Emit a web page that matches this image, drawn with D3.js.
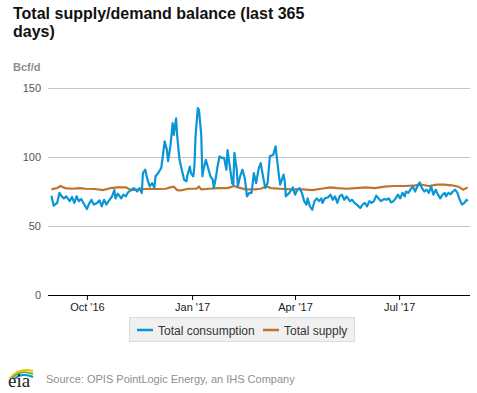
<!DOCTYPE html>
<html>
<head>
<meta charset="utf-8">
<script src="https://cdn.jsdelivr.net/npm/d3@7"></script>
<style>
  body { margin: 0; background: #fff; }
  svg { font-family: "Liberation Sans", Arial, sans-serif; }
  .grid line { stroke: #c4c4c4; }
  .grid .domain { display: none; }
  .ylab text { fill: #555; font-size: 11px; }
  .xaxis text { fill: #222; font-size: 11px; }
</style>
</head>
<body>
<script>
var startDay = new Date(2016, 7, 31);

var consDay = [0, 2, 5, 7, 9, 11, 13, 16, 18, 20, 22, 24, 26, 28, 31, 33, 35, 37, 40, 42, 44, 46, 48, 50, 53, 55, 56, 58, 61, 63, 65, 67, 70, 72, 75, 77, 79, 80, 82, 84, 86, 88, 90, 91, 93, 96, 97, 99, 101, 102, 104, 106, 107, 109, 110, 112, 114, 116, 118, 119, 121, 122, 124, 125, 126, 128, 129, 131, 132, 133, 135, 137, 139, 141, 142, 144, 145, 147, 149, 151, 153, 154, 156, 158, 159, 160, 162, 163, 165, 167, 169, 171, 173, 175, 177, 179, 181, 183, 185, 187, 189, 191, 194, 196, 197, 199, 200, 203, 204, 205, 208, 210, 211, 213, 215, 217, 219, 221, 223, 224, 226, 228, 230, 232, 234, 236, 237, 239, 242, 244, 246, 248, 250, 252, 254, 256, 258, 261, 263, 265, 267, 270, 272, 274, 276, 278, 280, 282, 284, 286, 288, 291, 293, 295, 297, 299, 301, 303, 305, 307, 309, 310, 312, 314, 316, 318, 320, 322, 324, 326, 328, 330, 332, 334, 336, 338, 340, 342, 344, 345, 347, 349, 351, 353, 355, 357, 359, 361, 363, 364];
var consBcf = [72, 64.7, 66.7, 74, 71.5, 70, 71.5, 68, 71, 66.7, 71.5, 68, 69.6, 66.7, 62.3, 66.2, 69, 65.5, 66.7, 68.6, 64.3, 69, 65.5, 68, 71.5, 76, 70, 73.4, 70, 72.7, 71.5, 74.4, 76.3, 77.5, 75, 77.5, 73.9, 88.4, 90.8, 83.6, 78.7, 81, 78, 86, 88, 92, 98, 111.4, 105, 97, 107.7, 124.6, 116, 128, 115, 98, 90.8, 83.6, 82.4, 87, 93, 88.4, 86, 93, 115, 135.5, 134, 116, 86, 91, 98, 92, 86, 83.6, 77.5, 86, 92, 100.5, 99.3, 99.3, 90.8, 105, 93, 81, 80, 103, 91, 78.7, 86, 90.8, 85, 71.5, 74, 74, 88.4, 81, 90.8, 95.6, 86, 77.5, 81, 100.5, 101.7, 107.7, 100.5, 86, 80, 87.2, 82.4, 71.5, 74, 76.3, 78, 72.7, 76.3, 77.5, 74, 68, 65.5, 70, 64.3, 61.8, 68, 70, 68, 70, 66.7, 70, 70.8, 72.7, 69, 71.5, 66.7, 71.5, 72.7, 69, 71.5, 68, 69, 66.7, 65.5, 63, 65.5, 66.7, 64.3, 68, 66.7, 68, 72, 70, 68, 69.6, 69, 70, 67.1, 68, 70, 72.7, 70, 74, 71.5, 75, 74, 76.3, 78.7, 75, 78.7, 81.6, 77.5, 75, 76.3, 74, 78.7, 72.7, 76.3, 72.7, 70, 72.7, 74, 71.5, 74, 73, 75, 76.3, 74, 69, 65.5, 66.7, 69, 68];

var supplyDay = [0, 5, 8, 12, 18, 25, 30, 38, 45, 52, 58, 65, 70, 78, 85, 92, 100, 104, 107, 110, 113, 120, 127, 129, 131, 138, 146, 154, 160, 163, 170, 178, 183, 188, 192, 200, 210, 220, 228, 236, 244, 250, 258, 266, 275, 283, 291, 300, 310, 318, 323, 330, 337, 343, 350, 356, 360, 364];
var supplyBcf = [76.5, 77.5, 79, 77.5, 77, 77.5, 77, 76.8, 76, 77.5, 78, 78, 76, 76.5, 77, 76.8, 77, 78, 78.5, 76, 75.8, 77, 77, 78.5, 76.5, 77, 77.5, 77.5, 79, 78, 76.5, 76.5, 77, 78.7, 77.5, 77, 76.5, 76.5, 76, 77, 78, 77.5, 77, 77.5, 78, 77.5, 78.5, 79, 79, 79.5, 80, 79, 80, 80, 79.5, 78.5, 76.3, 78];

var yTicks = [0, 50, 100, 150];
var xTickDates = [new Date(2016, 9, 1), new Date(2017, 0, 1), new Date(2017, 3, 1), new Date(2017, 6, 1)];
var seriesNames = ["Total consumption", "Total supply"];
var seriesColors = ["#0a96d6", "#bf732c"];

var width = 477, height = 393;
var svg = d3.select("body").append("svg")
    .attr("width", width)
    .attr("height", height);

var x = d3.scaleTime()
    .domain([new Date(2016, 7, 28), new Date(2017, 8, 1)])
    .range([48, 470]);
var y = d3.scaleLinear()
    .domain([0, 150])
    .range([295, 88]);

// title, two lines
var title = svg.append("text")
    .attr("x", 13)
    .attr("y", 19)
    .style("font-size", "16px")
    .style("font-weight", "bold")
    .attr("fill", "#111");
title.append("tspan").attr("x", 13).text("Total supply/demand balance (last 365");
title.append("tspan").attr("x", 13).attr("dy", 18).text("days)");

svg.append("text")
    .attr("x", 13)
    .attr("y", 71)
    .style("font-size", "11px")
    .style("font-weight", "bold")
    .attr("fill", "#8c8c8c")
    .text("Bcf/d");

// gridlines
svg.append("g")
    .attr("class", "grid")
    .attr("transform", "translate(48,0)")
    .call(d3.axisLeft(y).tickValues(yTicks).tickSize(-422).tickFormat(""));

// y labels without axis line
var ylab = svg.append("g")
    .attr("class", "ylab")
    .attr("transform", "translate(41,0)")
    .call(d3.axisLeft(y).tickValues(yTicks).tickSize(0).tickPadding(0));
ylab.select(".domain").remove();

// x axis
var fmt = d3.timeFormat("%b '%y");
var xaxis = svg.append("g")
    .attr("class", "xaxis")
    .attr("transform", "translate(0,295)")
    .call(d3.axisBottom(x).tickValues(xTickDates).tickSize(5).tickPadding(3).tickFormat(fmt));
xaxis.select(".domain").attr("stroke", "#000").attr("d", "M48,0.5H470");
xaxis.selectAll(".tick line").attr("stroke", "#000");

function toPoints(days, vals) {
    var pts = [];
    for (var i = 0; i < days.length; i++) {
        pts.push({ date: d3.timeDay.offset(startDay, days[i]), v: vals[i] });
    }
    return pts;
}

var line = d3.line()
    .x(function (d) { return x(d.date); })
    .y(function (d) { return y(d.v); });

svg.append("path")
    .datum(toPoints(supplyDay, supplyBcf))
    .attr("fill", "none")
    .attr("stroke", seriesColors[1])
    .attr("stroke-width", 2.2)
    .attr("d", line);

svg.append("path")
    .datum(toPoints(consDay, consBcf))
    .attr("fill", "none")
    .attr("stroke", seriesColors[0])
    .attr("stroke-width", 2.2)
    .attr("stroke-linejoin", "round")
    .attr("d", line);

// legend
var legend = svg.append("g");
legend.append("rect")
    .attr("x", 129.5).attr("y", 317.5)
    .attr("width", 225).attr("height", 24)
    .attr("fill", "#f0f0f0")
    .attr("stroke", "#dcdcdc");
var legX = [137, 263];
seriesNames.forEach(function (name, i) {
    legend.append("line")
        .attr("x1", legX[i]).attr("x2", legX[i] + 16)
        .attr("y1", 330).attr("y2", 330)
        .attr("stroke", seriesColors[i])
        .attr("stroke-width", 2.5);
    legend.append("text")
        .attr("x", legX[i] + 21)
        .attr("y", 334.5)
        .style("font-size", "12px")
        .attr("fill", "#333")
        .text(name);
});

// eia mark and source
var logo = svg.append("g").attr("transform", "translate(8,366)");
logo.append("path").attr("d", "M2,12 Q12,1 25,5").attr("fill", "none").attr("stroke", "#f2c200").attr("stroke-width", 2);
logo.append("path").attr("d", "M4,12 Q13,3 25,8").attr("fill", "none").attr("stroke", "#6cb33f").attr("stroke-width", 2);
logo.append("path").attr("d", "M6,13 Q14,6 25,11").attr("fill", "none").attr("stroke", "#0096d7").attr("stroke-width", 2);
logo.append("text")
    .attr("x", 0).attr("y", 21)
    .style("font-family", "'Liberation Serif', serif")
    .style("font-size", "19px")
    .attr("fill", "#222")
    .text("eia");

svg.append("text")
    .attr("x", 46)
    .attr("y", 383)
    .style("font-size", "11px")
    .attr("fill", "#8f8f8f")
    .text("Source: OPIS PointLogic Energy, an IHS Company");
</script>
</body>
</html>
